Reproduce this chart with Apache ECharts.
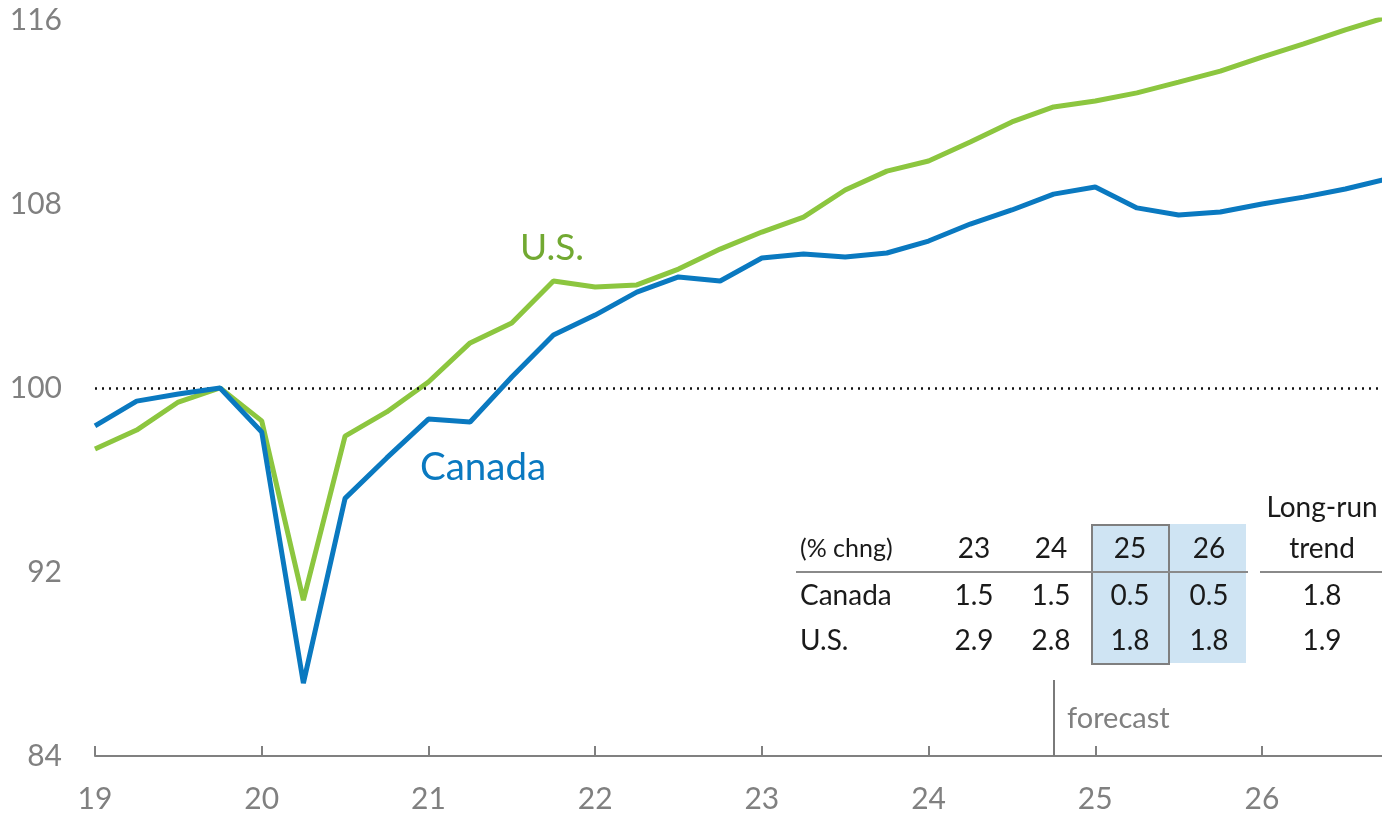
<!DOCTYPE html>
<html><head><meta charset="utf-8">
<script src="https://cdn.jsdelivr.net/npm/echarts@6/dist/echarts.min.js"></script>
<style>html,body{margin:0;padding:0;background:#fff;overflow:hidden;width:1382px;height:819px}#c{width:1387px;height:819px}</style>
</head><body><div id="c"></div>
<script>
const quarters = [];
const years = ['19','20','21','22','23','24','25','26'];
years.forEach(y => { for (let q = 1; q <= 4; q++) quarters.push(y + 'Q' + q); });

const canada = [98.35, 99.43, 99.74, 100.0, 98.09, 87.17, 95.2, 96.96,
  98.65, 98.52, 100.48, 102.3, 103.17, 104.17, 104.83, 104.65,
  105.65, 105.83, 105.7, 105.87, 106.39, 107.13, 107.74, 108.43,
  108.74, 107.83, 107.52, 107.65, 108.0, 108.3, 108.65, 109.09];
const us = [97.35, 98.17, 99.39, 100.0, 98.57, 90.78, 97.91, 98.96,
  100.26, 101.96, 102.83, 104.65, 104.39, 104.48, 105.17, 106.04,
  106.78, 107.43, 108.61, 109.43, 109.87, 110.7, 111.57, 112.22,
  112.48, 112.83, 113.3, 113.78, 114.39, 114.96, 115.57, 116.13];

const tableHeader = ['(% chng)', '23', '24', '25', '26'];
const tableTrendHeader = ['Long-run', 'trend'];
const tableRows = [
  ['Canada', '1.5', '1.5', '0.5', '0.5', '1.8'],
  ['U.S.', '2.9', '2.8', '1.8', '1.8', '1.9']
];
const forecastStart = '24Q4';

const FONT = 'Lato';
const GRAY = '#808080';
const BLUE = '#0a79c0';
const GREEN = '#8cc63f';

const chart = echarts.init(document.getElementById('c'));

const colX = [null, 974, 1051, 1130, 1209, 1322];
const rowY = [596, 641];
const g = [];
g.push({type:'rect', shape:{x:1092,y:524,width:154,height:139}, style:{fill:'#cfe4f3'}, z:1});
g.push({type:'rect', shape:{x:1092,y:525,width:77,height:139}, style:{fill:'none', stroke:'#7f7f7f', lineWidth:2}, z:2});
g.push({type:'line', shape:{x1:796,y1:572,x2:1248,y2:572}, style:{stroke:'#8a8a8a', lineWidth:2}, z:2});
g.push({type:'line', shape:{x1:1260,y1:572,x2:1387,y2:572}, style:{stroke:'#8a8a8a', lineWidth:2}, z:2});
const ts = {fontFamily: FONT, fontSize: 28, fill: '#1a1a1a', verticalAlign:'middle'};
g.push({type:'text', x:800, y:549, style:Object.assign({}, ts, {text: tableHeader[0], align:'left', fontSize:25}), z:3});
for (let i = 1; i < tableHeader.length; i++) {
  g.push({type:'text', x:colX[i], y:549, style:Object.assign({}, ts, {text: tableHeader[i], align:'center'}), z:3});
}
g.push({type:'text', x:colX[5], y:508, style:Object.assign({}, ts, {text: tableTrendHeader[0], align:'center'}), z:3});
g.push({type:'text', x:colX[5], y:549, style:Object.assign({}, ts, {text: tableTrendHeader[1], align:'center'}), z:3});
tableRows.forEach((r, ri) => {
  g.push({type:'text', x:800, y:rowY[ri], style:Object.assign({}, ts, {text: r[0], align:'left'}), z:3});
  for (let i = 1; i < r.length; i++) {
    g.push({type:'text', x:colX[i], y:rowY[ri], style:Object.assign({}, ts, {text: r[i], align:'center'}), z:3});
  }
});
g.push({type:'text', x:1067, y:719, style:{text:'forecast', fontFamily:FONT, fontSize:29, fill:GRAY, align:'left', verticalAlign:'middle'}, z:3});
g.push({type:'text', x:520, y:248, style:{text:'U.S.', fontFamily:FONT, fontSize:37, fill:'#72a932', align:'left', verticalAlign:'middle'}, z:3});
g.push({type:'text', x:420, y:468, style:{text:'Canada', fontFamily:FONT, fontSize:38.5, fill:BLUE, align:'left', verticalAlign:'middle'}, z:3});

chart.setOption({
  animation: false,
  backgroundColor: '#fff',
  grid: {left: 95, right: 0, top: 20, bottom: 63},
  xAxis: {
    type: 'category', data: quarters, boundaryGap: false,
    axisLine: {lineStyle: {color: GRAY, width: 2}},
    axisTick: {inside: true, length: 10, lineStyle:{color: GRAY, width: 2}, interval: (i) => i % 4 === 0},
    axisLabel: {interval: (i) => i % 4 === 0, formatter: (v) => v.slice(0, 2), color: GRAY, fontFamily: FONT, fontSize: 30, margin: 28},
    splitLine: {show: false}
  },
  yAxis: {
    type: 'value', min: 84, max: 116, interval: 8,
    axisLine: {show: false}, axisTick: {show: false}, splitLine: {show: false},
    axisLabel: {color: GRAY, fontFamily: FONT, fontSize: 30, margin: 33}
  },
  graphic: g,
  series: [
    {name: 'U.S.', type: 'line', data: us, symbol: 'none', lineStyle: {color: GREEN, width: 5}, z: 4,
     markLine: {silent: true, symbol: 'none', label: {show: false}, lineStyle: {color: '#111', type: [2, 5], width: 2.5},
       data: [{yAxis: 100}]}},
    {name: 'Canada', type: 'line', data: canada, symbol: 'none', lineStyle: {color: BLUE, width: 5}, z: 5,
     markLine: {silent: true, symbol: 'none', label: {show: false}, lineStyle: {color: '#7a7a7a', type: 'solid', width: 2},
       data: [
         [{coord: [forecastStart, 116.1]}, {coord: [forecastStart, 94.8]}],
         [{coord: [forecastStart, 87.3]}, {coord: [forecastStart, 84]}]
       ]}}
  ]
});
</script></body></html>
